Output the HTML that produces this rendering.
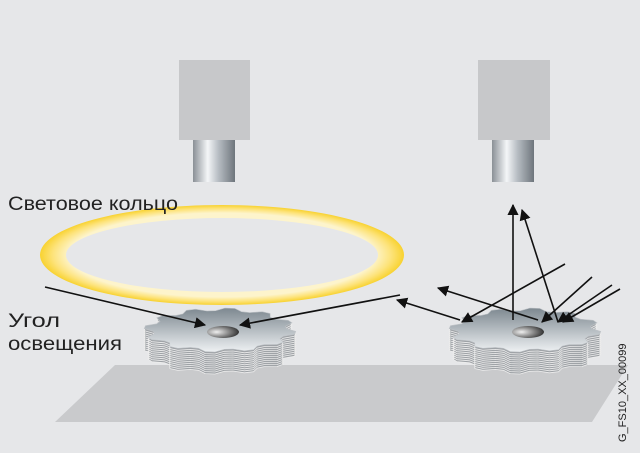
<!DOCTYPE html>
<html><head><meta charset="utf-8"><style>
html,body{margin:0;padding:0;background:#e6e7e9;}
svg{display:block}
text{font-family:"Liberation Sans",sans-serif}
</style></head><body>
<svg id="s" width="640" height="453" viewBox="0 0 640 453" xmlns="http://www.w3.org/2000/svg">
<defs>
<linearGradient id="lens" x1="0" x2="1">
<stop offset="0" stop-color="#8a9096"/><stop offset="0.35" stop-color="#f4f6f8"/><stop offset="0.6" stop-color="#b8bec4"/><stop offset="1" stop-color="#6e757c"/>
</linearGradient>
<radialGradient id="ring" cx="0.5" cy="0.5" r="0.5">
<stop offset="0.84" stop-color="#fdf4cc"/><stop offset="0.93" stop-color="#fde37a"/><stop offset="1" stop-color="#f8d230"/>
</radialGradient>
<linearGradient id="top" x1="0" y1="0" x2="0" y2="1">
<stop offset="0" stop-color="#7d8890"/><stop offset="1" stop-color="#eef1f3"/>
</linearGradient>
<radialGradient id="hole" cx="0.3" cy="0.5" r="0.7">
<stop offset="0" stop-color="#f0f0f0"/><stop offset="1" stop-color="#333"/>
</radialGradient>
<marker id="ah" viewBox="0 0 10 10" refX="9" refY="5" markerWidth="7" markerHeight="7" orient="auto-start-reverse"><path d="M0,0 L10,5 L0,10 z" fill="#111"/></marker>
</defs>
<polygon points="115,365 628,365 592,422 55,422" fill="#c9cacc"/>
<rect x="179" y="60" width="71" height="80" fill="#c7c8ca"/>
<rect x="193" y="140" width="42" height="42" fill="url(#lens)"/>
<rect x="478" y="60" width="72" height="80" fill="#c7c8ca"/>
<rect x="492" y="140" width="42" height="42" fill="url(#lens)"/>
<path fill-rule="evenodd" fill="url(#ring)" d="M40,255 a182,50 0 1,0 364,0 a182,50 0 1,0 -364,0 Z M66,255 a156,37 0 1,0 312,0 a156,37 0 1,0 -312,0 Z"/>
<g id="gears"></g>
<g stroke="#111" stroke-width="1.6" fill="none" marker-end="url(#ah)">
<line x1="45" y1="287" x2="205" y2="325"/>
<line x1="400" y1="295" x2="240" y2="325"/>
<line x1="513" y1="320" x2="513" y2="205"/>
<line x1="558" y1="322" x2="522" y2="210"/>
<line x1="565" y1="264" x2="462" y2="322"/>
<line x1="592" y1="277" x2="542" y2="322"/>
<line x1="612" y1="285" x2="558" y2="322"/>
<line x1="620" y1="289" x2="563" y2="322"/>
<line x1="538" y1="320" x2="438" y2="288"/>
<line x1="460" y1="320" x2="397" y2="300"/>
</g>
<text x="8" y="210" font-size="19" fill="#222" textLength="170" lengthAdjust="spacingAndGlyphs">Световое кольцо</text>
<text x="8" y="327" font-size="19" fill="#222" textLength="52" lengthAdjust="spacingAndGlyphs">Угол</text>
<text x="8" y="350" font-size="19" fill="#222" textLength="114" lengthAdjust="spacingAndGlyphs">освещения</text>
<text transform="translate(626,442) rotate(-90)" font-size="11" fill="#222">G_FS10_XX_00099</text>
</svg>
<script>
function gear(cx,cy){
 var pts=[],n=12;
 for(var i=0;i<n*4;i++){var a=(i+0.5)/(n*4)*Math.PI*2;var r=(i%4<2)?1:0.88;pts.push([cx+Math.cos(a)*76*r,cy+Math.sin(a)*22*r]);}
 var d=pts.map(function(p,i){return (i?'L':'M')+p[0].toFixed(1)+','+p[1].toFixed(1)}).join('')+'Z';
 var s='';
 for(var k=22;k>0;k-=2){s+='<path transform="translate(0,'+k+')" d="'+d+'" fill="#9fa3a7" stroke="#eeeeee" stroke-width="0.8"/>';}
 s+='<path d="'+d+'" fill="url(#top)" stroke="#c0c4c8" stroke-width="0.6"/>';
 s+='<ellipse cx="'+(cx+3)+'" cy="'+(cy+2)+'" rx="16" ry="6" fill="url(#hole)"/>';
 return s;
}
document.getElementById('gears').innerHTML=gear(220,330)+gear(525,330);
</script>
</body></html>
